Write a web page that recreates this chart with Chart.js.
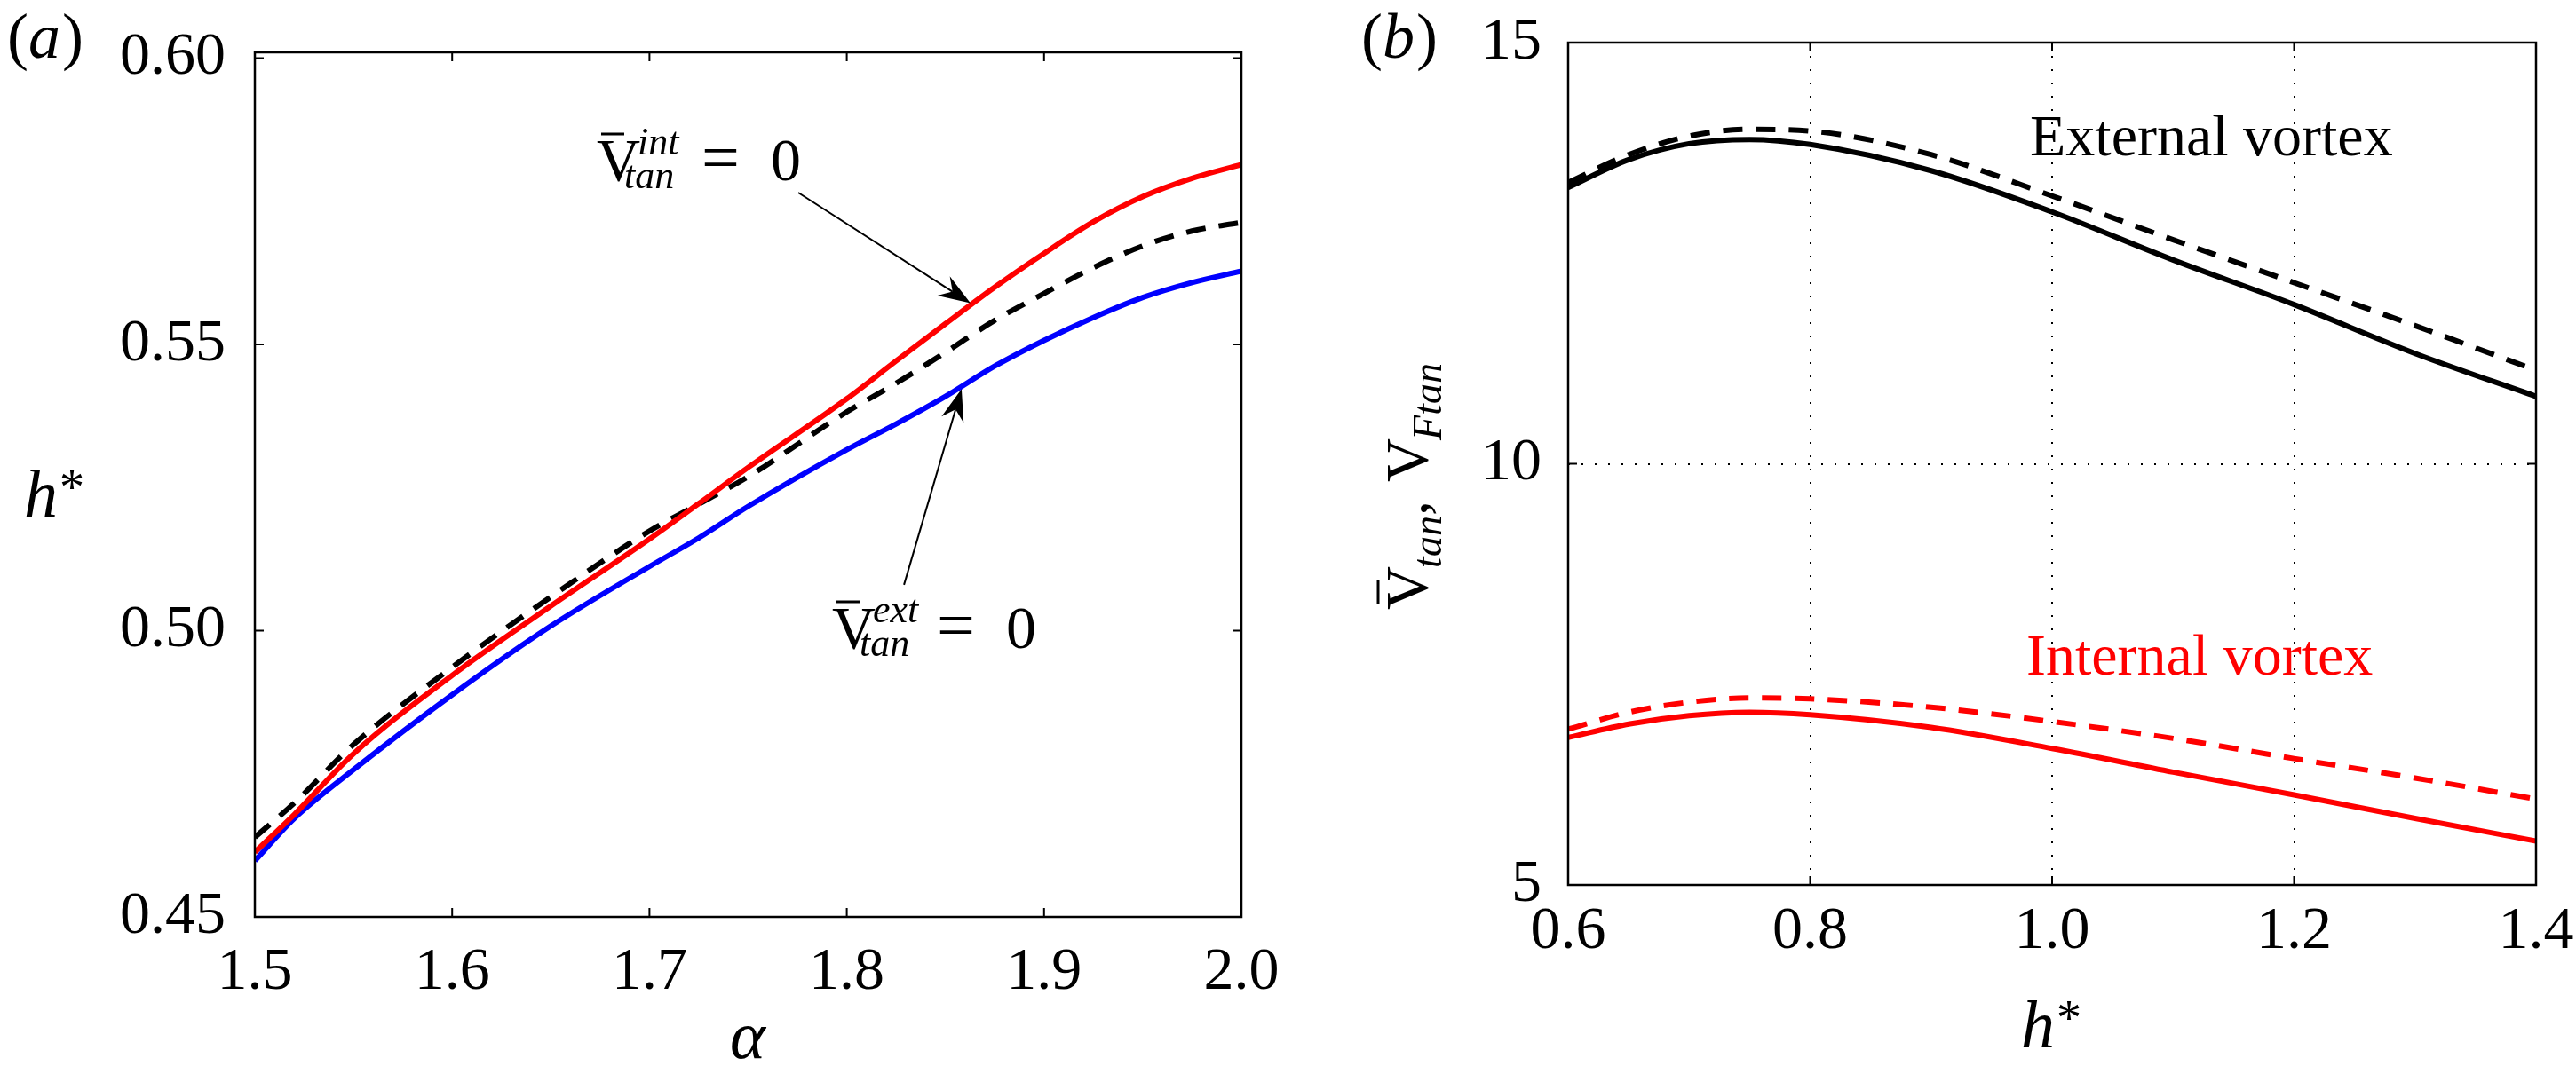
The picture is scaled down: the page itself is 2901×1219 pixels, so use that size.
<!DOCTYPE html>
<html>
<head>
<meta charset="utf-8">
<script src="https://cdn.jsdelivr.net/npm/chart.js@4.4.1/dist/chart.umd.min.js"></script>
<style>
  html, body { margin: 0; padding: 0; background: #fff; }
  #wrap { position: relative; width: 2901px; height: 1219px; }
  .panel { position: absolute; top: 0; height: 1219px; }
  #pa { left: 0; width: 1450px; }
  #pb { left: 1450px; width: 1451px; }
</style>
</head>
<body>
<div id="wrap">
  <div class="panel" id="pa"><canvas id="chartA"></canvas></div>
  <div class="panel" id="pb"><canvas id="chartB"></canvas></div>
</div>
<script>
// panel (a): h* against alpha
const alpha     = [1.5, 1.52, 1.55, 1.6, 1.65, 1.7, 1.725, 1.75, 1.8, 1.825, 1.85, 1.875, 1.9, 1.925, 1.95, 1.975, 2.0];
const hIntZero  = [0.4613, 0.4679, 0.4785, 0.4922, 0.5043, 0.5160, 0.5222, 0.5285, 0.5405, 0.5471, 0.5536, 0.5600, 0.5659, 0.5714, 0.5758, 0.5790, 0.5814];
const hMean     = [0.4639, 0.4699, 0.4801, 0.4936, 0.5059, 0.5174, 0.5221, 0.5269, 0.5382, 0.5432, 0.5486, 0.5542, 0.5589, 0.5634, 0.5672, 0.5698, 0.5713];
const hExtZero  = [0.4598, 0.4672, 0.4757, 0.4888, 0.5008, 0.5112, 0.5162, 0.5217, 0.5316, 0.5361, 0.5409, 0.5462, 0.5507, 0.5547, 0.5582, 0.5608, 0.5628];
const alphaTicks = [1.5, 1.6, 1.7, 1.8, 1.9, 2.0];
const hTicks     = [0.45, 0.50, 0.55, 0.60];

// panel (b): tangential velocities against h*
const hStar      = [0.6, 0.65, 0.7, 0.75, 0.8, 0.9, 1.0, 1.1, 1.2, 1.3, 1.4];
const vExt       = [13.28, 13.61, 13.80, 13.85, 13.79, 13.48, 12.99, 12.42, 11.89, 11.31, 10.80];
const vExtF      = [13.34, 13.67, 13.89, 13.97, 13.95, 13.67, 13.18, 12.66, 12.15, 11.64, 11.11];
const vInt       = [6.75, 6.91, 7.01, 7.05, 7.02, 6.87, 6.62, 6.34, 6.07, 5.79, 5.52];
const vIntF      = [6.85, 7.05, 7.17, 7.22, 7.21, 7.11, 6.94, 6.74, 6.50, 6.27, 6.02];
const hStarTicks = [0.6, 0.8, 1.0, 1.2, 1.4];
const vTicks     = [5, 10, 15];

const SERIF = '"Liberation Serif"';

function pts(xs, ys) {
    return xs.map((x, i) => ({ x: x, y: ys[i] }));
}

function txt(ctx, s, x, y, size, italic, color, align) {
    ctx.font = (italic ? 'italic ' : 'normal ') + size + 'px ' + SERIF;
    ctx.fillStyle = color || '#000';
    ctx.textAlign = align || 'left';
    ctx.textBaseline = 'alphabetic';
    ctx.fillText(s, x, y);
    return ctx.measureText(s).width;
}

function bar(ctx, x1, x2, y) {
    ctx.beginPath();
    ctx.lineWidth = 3;
    ctx.strokeStyle = '#000';
    ctx.moveTo(x1, y);
    ctx.lineTo(x2, y);
    ctx.stroke();
}

function arrow(ctx, x1, y1, x2, y2) {
    const a = Math.atan2(y2 - y1, x2 - x1);
    const c = Math.cos(a), s = Math.sin(a);
    const L = 36, W = 13, back = 24;
    ctx.save();
    ctx.strokeStyle = '#000';
    ctx.fillStyle = '#000';
    ctx.lineWidth = 2;
    ctx.beginPath();
    ctx.moveTo(x1, y1);
    ctx.lineTo(x2 - back * c, y2 - back * s);
    ctx.stroke();
    ctx.beginPath();
    ctx.moveTo(x2, y2);
    ctx.lineTo(x2 - L * c + W * s, y2 - L * s - W * c);
    ctx.lineTo(x2 - back * c, y2 - back * s);
    ctx.lineTo(x2 - L * c - W * s, y2 - L * s + W * c);
    ctx.closePath();
    ctx.fill();
    ctx.restore();
}

// V-bar with super/subscript followed by "= 0"
function vbarLabel(ctx, x, y, sup) {
    txt(ctx, 'V', x, y, 68, false);
    bar(ctx, x + 5, x + 31, y - 52);
    txt(ctx, sup, x + 46, y - 29, 44, true);
    txt(ctx, 'tan', x + 31, y + 9, 44, true);
    txt(ctx, '=', x + 118, y, 76, false);
    txt(ctx, '0', x + 196, y, 68, false);
}

// inward ticks on all four sides plus the box
const framePlugin = {
    id: 'frame',
    afterDatasetsDraw(chart) {
        const { ctx, chartArea: a, scales: { x, y } } = chart;
        ctx.save();
        ctx.strokeStyle = '#000';
        ctx.lineWidth = 2;
        ctx.beginPath();
        x.ticks.forEach(t => {
            const px = x.getPixelForValue(t.value);
            ctx.moveTo(px, a.bottom); ctx.lineTo(px, a.bottom - 10);
            ctx.moveTo(px, a.top); ctx.lineTo(px, a.top + 10);
        });
        y.ticks.forEach(t => {
            const py = y.getPixelForValue(t.value);
            ctx.moveTo(a.left, py); ctx.lineTo(a.left + 10, py);
            ctx.moveTo(a.right, py); ctx.lineTo(a.right - 10, py);
        });
        ctx.stroke();
        ctx.lineWidth = 2.5;
        ctx.strokeRect(a.left, a.top, a.right - a.left, a.bottom - a.top);
        ctx.restore();
    }
};

const labelsA = {
    id: 'labelsA',
    afterDraw(chart) {
        const { ctx, scales: { x, y } } = chart;
        ctx.save();
        // panel tag
        let px = 8;
        px += txt(ctx, '(', px, 65, 72, false);
        px += txt(ctx, 'a', px, 65, 72, true);
        txt(ctx, ')', px + 2, 65, 72, false);
        // axis titles
        txt(ctx, '\u03b1', 842, 1192, 76, true, '#000', 'center');
        const hw = txt(ctx, 'h', 27, 582, 76, true);
        txt(ctx, '*', 27 + hw + 2, 568, 56, false);
        // annotations
        vbarLabel(ctx, 672, 203, 'int');
        arrow(ctx, x.getPixelForValue(1.7754), y.getPixelForValue(0.5765),
                   x.getPixelForValue(1.8627), y.getPixelForValue(0.5572));
        vbarLabel(ctx, 937, 730, 'ext');
        arrow(ctx, x.getPixelForValue(1.829), y.getPixelForValue(0.508),
                   x.getPixelForValue(1.8582), y.getPixelForValue(0.5422));
        ctx.restore();
    }
};

const labelsB = {
    id: 'labelsB',
    afterDraw(chart) {
        const { ctx } = chart;
        ctx.save();
        let px = 83;
        px += txt(ctx, '(', px, 65, 72, false);
        px += txt(ctx, 'b', px, 65, 72, true);
        txt(ctx, ')', px + 2, 65, 72, false);
        // x title
        const hw = txt(ctx, 'h', 826, 1180, 76, true);
        txt(ctx, '*', 826 + hw + 2, 1166, 56, false);
        // curve labels
        txt(ctx, 'External vortex', 836, 175, 66, false, '#000');
        txt(ctx, 'Internal vortex', 832, 760, 66, false, '#ff0000');
        // rotated y title
        ctx.translate(157, 540);
        ctx.rotate(-Math.PI / 2);
        let u = -147;
        const w1 = txt(ctx, 'V', u, 0, 68, false);
        bar(ctx, u + 7, u + 33, -55);
        u += w1 - 2;
        u += txt(ctx, 'tan', u, 16, 46, true);
        u += txt(ctx, ',', u, 0, 68, false);
        u = -3;
        u += txt(ctx, 'V', u, 0, 68, false) - 2;
        txt(ctx, 'Ftan', u, 16, 46, true);
        ctx.restore();
    }
};

function fixTicks(list) {
    return function (scale) {
        scale.ticks = list.map(v => ({ value: v }));
    };
}

function lineSet(xs, ys, color, dashed, order) {
    return {
        data: pts(xs, ys),
        borderColor: color,
        borderWidth: 6,
        borderDash: dashed ? [22, 15] : [],
        pointRadius: 0,
        fill: false,
        cubicInterpolationMode: 'monotone',
        order: order
    };
}

Chart.defaults.font.family = SERIF;
const tickFont = { family: SERIF, size: 68, style: 'normal', weight: 'normal' };

new Chart(document.getElementById('chartA'), {
    type: 'line',
    data: {
        datasets: [
            lineSet(alpha, hIntZero, '#ff0000', false, 1),
            lineSet(alpha, hMean, '#000000', true, 2),
            lineSet(alpha, hExtZero, '#0000ff', false, 3)
        ]
    },
    options: {
        responsive: true,
        maintainAspectRatio: false,
        devicePixelRatio: 1,
        animation: false,
        layout: { padding: { left: 0, top: 59, right: 52, bottom: 0 } },
        plugins: { legend: { display: false }, tooltip: { enabled: false } },
        scales: {
            x: {
                type: 'linear', min: 1.5, max: 2.0,
                afterBuildTicks: fixTicks(alphaTicks),
                afterFit(s) { s.height = 186; s.paddingLeft = 0; s.paddingRight = 0; },
                grid: { display: false },
                border: { display: false },
                ticks: { font: tickFont, color: '#000', padding: 14, maxRotation: 0, autoSkip: false,
                         callback: v => Number(v).toFixed(1) }
            },
            y: {
                type: 'linear', min: 0.45, max: 0.601,
                afterBuildTicks: fixTicks(hTicks),
                afterFit(s) { s.width = 287; s.paddingTop = 0; s.paddingBottom = 0; },
                grid: { display: false },
                border: { display: false },
                ticks: { font: tickFont, color: '#000', padding: 25, autoSkip: false,
                         callback: v => Number(v).toFixed(2) }
            }
        }
    },
    plugins: [framePlugin, labelsA]
});

new Chart(document.getElementById('chartB'), {
    type: 'line',
    data: {
        datasets: [
            lineSet(hStar, vExt, '#000000', false, 1),
            lineSet(hStar, vExtF, '#000000', true, 2),
            lineSet(hStar, vInt, '#ff0000', false, 3),
            lineSet(hStar, vIntF, '#ff0000', true, 4)
        ]
    },
    options: {
        responsive: true,
        maintainAspectRatio: false,
        devicePixelRatio: 1,
        animation: false,
        layout: { padding: { left: 0, top: 48, right: 45, bottom: 0 } },
        plugins: { legend: { display: false }, tooltip: { enabled: false } },
        scales: {
            x: {
                type: 'linear', min: 0.6, max: 1.4,
                afterBuildTicks: fixTicks(hStarTicks),
                afterFit(s) { s.height = 222; s.paddingLeft = 0; s.paddingRight = 0; },
                grid: { color: '#000', lineWidth: 2, drawTicks: false },
                border: { display: false, dash: [2, 13] },
                ticks: { font: tickFont, color: '#000', padding: 12, maxRotation: 0, autoSkip: false,
                         callback: v => Number(v).toFixed(1) }
            },
            y: {
                type: 'linear', min: 5, max: 15,
                afterBuildTicks: fixTicks(vTicks),
                afterFit(s) { s.width = 316; s.paddingTop = 0; s.paddingBottom = 0; },
                grid: { color: '#000', lineWidth: 2, drawTicks: false },
                border: { display: false, dash: [2, 13] },
                ticks: { font: tickFont, color: '#000', padding: 30, autoSkip: false,
                         callback: v => String(v) }
            }
        }
    },
    plugins: [framePlugin, labelsB]
});
</script>
</body>
</html>
